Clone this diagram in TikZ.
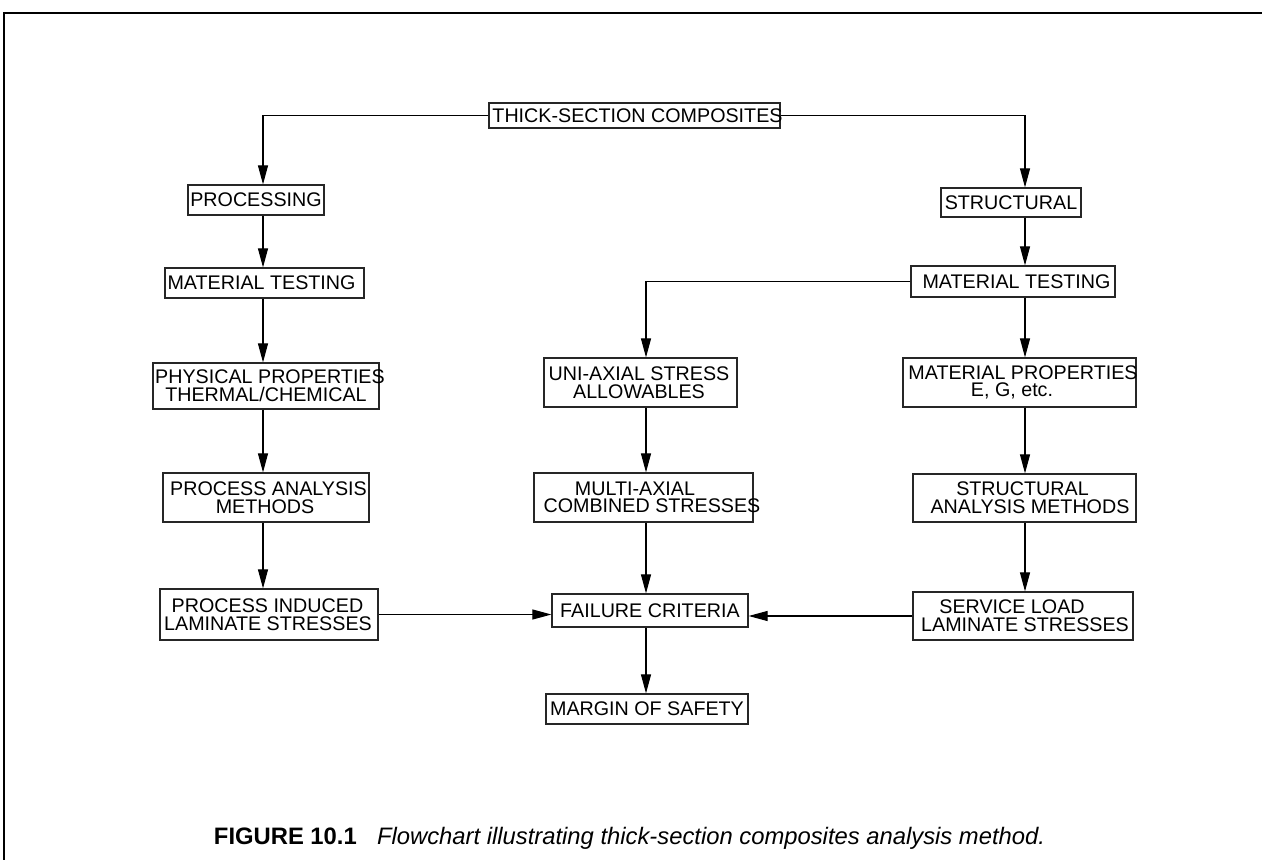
\documentclass[tikz,border=0pt]{standalone}
\usepackage{fontspec}
\setmainfont{Liberation Sans}
\usetikzlibrary{arrows.meta}
\newcommand{\ovr}[2]{\makebox[0pt]{\hspace{#1}#2}}
\tikzset{
  bx/.style n args={2}{draw=black!85, line width=0.6pt, inner sep=0pt, align=center,
    minimum width=#1*0.5pt, minimum height=#2*0.5pt,
    font=\fontsize{9.85}{8.8}\selectfont},
  arr/.style={line width=0.55pt, -{Triangle[length=9.5pt,width=5pt]}},
  frame/.style={line width=1pt}
}
\begin{document}
\begin{tikzpicture}[x=0.5pt,y=-0.5pt]
\useasboundingbox (0,0) rectangle (1262,860);
\clip (0,0) rectangle (1262,860);
\draw[frame] (4,860) -- (4,13) -- (1262,13);
% columns
\coordinate (cl) at (263,0);
\coordinate (cm) at (646,0);
\coordinate (cr) at (1025,0);
% nodes
\node[bx={291}{25}] (top) at (634.5,115.5) {\ovr{3pt}{THICK-SECTION COMPOSITES}};
\node[bx={136}{30}] (proc) at (256,200) {\ovr{0pt}{PROCESSING}};
\node[bx={199}{30}] (mt1) at (264.5,283) {\ovr{-3pt}{MATERIAL TESTING}};
\node[bx={226}{46}] (phys) at (266,386) {\ovr{4pt}{PHYSICAL PROPERTIES}\\\ovr{0pt}{THERMAL/CHEMICAL}};
\node[bx={206}{49}] (pam) at (266,497.5) {\ovr{2.5pt}{PROCESS ANALYSIS}\\\ovr{-1pt}{METHODS}};
\node[bx={218}{51}] (pil) at (269,614.5) {\ovr{-1.5pt}{PROCESS INDUCED}\\\ovr{-1pt}{LAMINATE STRESSES}};
\node[bx={196}{33}] (fail) at (650,610.5) {\ovr{0pt}{FAILURE CRITERIA}};
\node[bx={202}{30}] (mos) at (647,709) {\ovr{0pt}{MARGIN OF SAFETY}};
\node[bx={219}{49}] (multi) at (643.5,497.5) {\ovr{-8.5pt}{MULTI-AXIAL}\\\ovr{8.5pt}{COMBINED STRESSES}};
\node[bx={193}{49}] (uni) at (640.5,382.5) {\ovr{-1.5pt}{UNI-AXIAL STRESS}\\\ovr{-1.5pt}{ALLOWABLES}};
\node[bx={140}{29}] (struct) at (1011,202.5) {\ovr{0pt}{STRUCTURAL}};
\node[bx={204}{31}] (mt2) at (1013,281.5) {\ovr{3.5pt}{MATERIAL TESTING}};
\node[bx={233}{49}] (mprop) at (1019.5,382.5) {\ovr{3.5pt}{MATERIAL PROPERTIES}\\\ovr{-7.5pt}{E, G, etc.}};
\node[bx={223}{48}] (sam) at (1024.5,498) {\ovr{-2pt}{STRUCTURAL}\\\ovr{5.5pt}{ANALYSIS METHODS}};
\node[bx={220}{48}] (sl) at (1023,616) {\ovr{-11pt}{SERVICE LOAD}\\\ovr{2pt}{LAMINATE STRESSES}};
% connectors
\draw[arr] (top.west) -- (top.west -| cl) -- (proc.north -| cl);
\draw[arr] (top.east) -- (top.east -| cr) -- (struct.north -| cr);
\draw[arr] (proc.south -| cl) -- (mt1.north -| cl);
\draw[arr] (mt1.south -| cl) -- (phys.north -| cl);
\draw[arr] (phys.south -| cl) -- (pam.north -| cl);
\draw[arr] (pam.south -| cl) -- (pil.north -| cl);
\draw[arr] (pil.east) -- (pil.east -| fail.west);
\draw[arr] (struct.south -| cr) -- (mt2.north -| cr);
\draw[arr] (mt2.west) -- (mt2.west -| cm) -- (uni.north -| cm);
\draw[arr] (mt2.south -| cr) -- (mprop.north -| cr);
\draw[arr] (mprop.south -| cr) -- (sam.north -| cr);
\draw[arr] (sam.south -| cr) -- (sl.north -| cr);
\draw[arr] (sl.west) -- (sl.west -| fail.east);
\draw[arr] (uni.south -| cm) -- (multi.north -| cm);
\draw[arr] (multi.south -| cm) -- (fail.north -| cm);
\draw[arr] (fail.south -| cm) -- (mos.north -| cm);
% caption
\node[inner sep=0pt] (cap) at (629.5,838) {\fontsize{11.9}{14}\selectfont{\bfseries FIGURE 10.1}\hspace{0.85em}{\itshape Flowchart illustrating thick-section composites analysis method.}};
\end{tikzpicture}
\end{document}
